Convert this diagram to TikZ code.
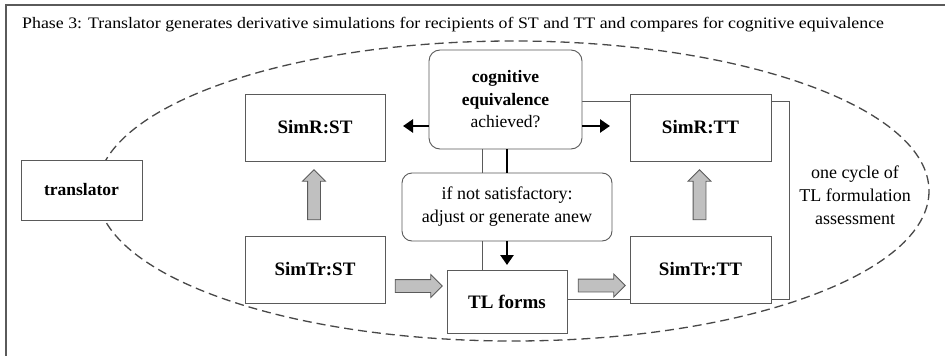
\documentclass[tikz,border=0pt]{standalone}
\usepackage{fontspec}
\setmainfont{Liberation Serif}
\usetikzlibrary{shapes.arrows,arrows.meta}
\definecolor{boxline}{RGB}{90,90,90}
\definecolor{garrowfill}{RGB}{192,192,192}
\begin{document}
\begin{tikzpicture}[x=1pt,y=-1pt,
  sbox/.style={draw=boxline,line width=0.9pt,fill=white,inner sep=0pt,align=center},
  rbox/.style={sbox,rounded corners=11pt},
  garrow/.style={single arrow,draw=boxline,line width=0.8pt,fill=garrowfill,inner xsep=0pt,inner ysep=6pt,
     single arrow head extend=5pt,single arrow head indent=0pt},
  blk/.style={line width=2.6pt,black},
  blkarrow/.style={blk,-{Triangle[length=10pt,width=13pt]}},
  thin/.style={draw=boxline,line width=0.9pt},
  reg/.style={font=\rmfamily\mdseries\fontsize{18}{23}\selectfont},
  bld/.style={font=\rmfamily\fontsize{19}{23}\selectfont\bfseries}
]
\useasboundingbox (0,0) rectangle (945,356);
\fill[white] (0,0) rectangle (945,356);
% frame
\draw[boxline,line width=1.4pt] (6,400) -- (6,5) -- (960,5);
% title
\node[anchor=base west,inner sep=0pt,font=\rmfamily\fontsize{16}{18}\selectfont] (title) at (22,28)
  {\scalebox{1.115}[1]{Phase 3: Translator generates derivative simulations for recipients of ST and TT and compares for cognitive equivalence}};
% ellipse
\draw[boxline!80!black,line width=1.3pt,dash pattern=on 9pt off 5pt] (513,191) ellipse [x radius=416, y radius=150];
% coordinates
\coordinate (bk1) at (582,101);
\coordinate (bk2) at (789,101);
\coordinate (bk3) at (789,299);
\coordinate (bk4) at (567,299);
\draw[thin] (bk1) -- (bk2) -- (bk3) -- (bk4);
% nodes
\node[sbox,minimum width=121pt,minimum height=60pt,font=\rmfamily\fontsize{17.5}{21}\selectfont\bfseries] (translator) at (81.5,190) {translator};
\node[sbox,bld,minimum width=140pt,minimum height=67pt] (simrst) at (315,127.5) {SimR:ST};
\node[sbox,bld,minimum width=140pt,minimum height=67pt] (simtrst) at (315,269.5) {SimTr:ST};
\node[sbox,bld,minimum width=141pt,minimum height=67pt] (simrtt) at (700.5,127.5) {SimR:TT};
\node[sbox,bld,minimum width=141pt,minimum height=67pt] (simtrtt) at (700.5,269.5) {SimTr:TT};
\node[sbox,bld,minimum width=120pt,minimum height=63pt] (tlforms) at (507,301.5) {TL forms};
\node[rbox,minimum width=153pt,minimum height=99pt,font=\rmfamily\fontsize{17.5}{22.5}\selectfont] (cog) at (505.5,99.5)
  {\textbf{cognitive}\\\textbf{equivalence}\\achieved?};
\node[rbox,reg,minimum width=210pt,minimum height=68pt,rounded corners=10pt] (ifnot) at (507,207)
  {if not satisfactory:\\adjust or generate anew};
\node[reg,align=center,inner sep=0pt] (cycle) at (855,195) {one cycle of\\TL formulation\\assessment};
% connectors
\coordinate (la) at (403,126);
\coordinate (ra) at (610,126);
\coordinate (da) at (507,265);
\draw[blkarrow] (cog.west |- la) -- (la);
\draw[blkarrow] (cog.east |- ra) -- (ra);
\draw[thin] (cog.south -| 482,0) -- (ifnot.north -| 482,0);
\draw[thin] (ifnot.south -| 482,0) -- (tlforms.north -| 482,0);
\draw[blk] (cog.south -| 507,0) -- (ifnot.north -| 507,0);
\draw[blkarrow] (ifnot.south -| da) -- (da);
% grey block arrows
\node[garrow,minimum height=50pt,rotate=90] (up1) at (314,198) {};
\node[garrow,minimum height=50pt,rotate=90] (up2) at (699.5,198) {};
\node[garrow,minimum height=47pt] (rt1) at (415.5,286) {};
\node[garrow,minimum height=47pt] (rt2) at (598.5,285.5) {};
\end{tikzpicture}
\end{document}
